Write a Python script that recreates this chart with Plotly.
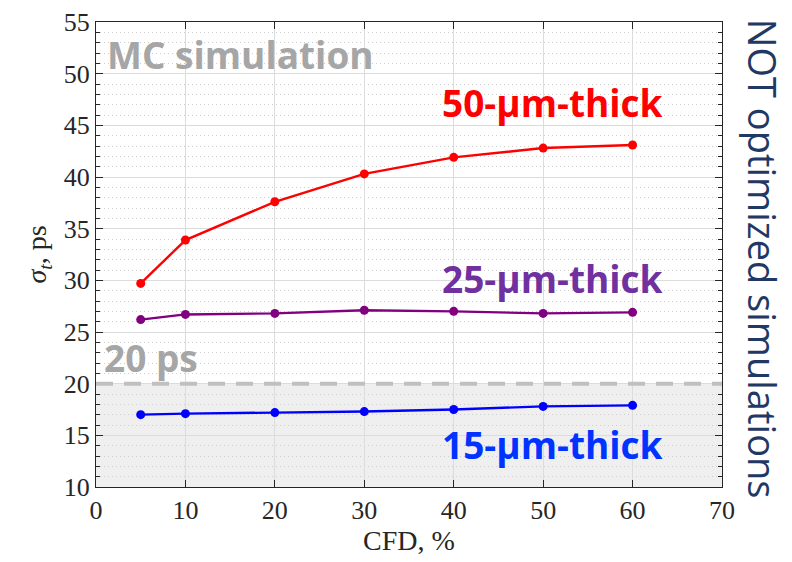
import plotly.graph_objects as go

cfd = [5, 10, 20, 30, 40, 50, 60]
sigma_50um = [29.7, 33.9, 37.6, 40.3, 41.9, 42.8, 43.1]
sigma_25um = [26.2, 26.7, 26.8, 27.1, 27.0, 26.8, 26.9]
sigma_15um = [17.0, 17.1, 17.2, 17.3, 17.5, 17.8, 17.9]
threshold_ps = 20
x_ticks = [0, 10, 20, 30, 40, 50, 60, 70]
y_ticks = [10, 15, 20, 25, 30, 35, 40, 45, 50, 55]

series = [
    ("50-µm-thick", sigma_50um, "#ff0000"),
    ("25-µm-thick", sigma_25um, "#800080"),
    ("15-µm-thick", sigma_15um, "#0000ff"),
]

fig = go.Figure()
for name, vals, col in series:
    fig.add_trace(go.Scatter(
        x=cfd, y=vals, mode="lines+markers", name=name,
        line=dict(color=col, width=2.4),
        marker=dict(color=col, size=9),
        showlegend=False,
    ))

# shaded region below 20 ps
fig.add_shape(type="rect", xref="x", yref="y", x0=0, x1=70, y0=10, y1=threshold_ps,
              fillcolor="#efefef", line=dict(width=0), layer="below")
fig.add_shape(type="line", xref="x", yref="y", x0=0, x1=70, y0=threshold_ps, y1=threshold_ps,
              line=dict(color="#c0c0c0", width=4, dash="17px,11px"), layer="above")

serif = "Liberation Serif"
sans = "Open Sans"

annots = [
    dict(x=16.2, y=51.9, text="<b>MC simulation</b>", color="#a6a6a6", size=37),
    dict(x=51.1, y=47.2, text="<b>50-µm-thick</b>", color="#ff0000", size=37),
    dict(x=51.1, y=30.2, text="<b>25-µm-thick</b>", color="#7030a0", size=37),
    dict(x=51.1, y=14.1, text="<b>15-µm-thick</b>", color="#0033ff", size=37),
    dict(x=6.2, y=22.5, text="<b>20 ps</b>", color="#a6a6a6", size=37),
]
for a in annots:
    fig.add_annotation(x=a["x"], y=a["y"], xref="x", yref="y", text=a["text"],
                       showarrow=False, xanchor="center", yanchor="middle",
                       font=dict(family=sans, size=a["size"], color=a["color"]))

fig.add_annotation(x=1.066, y=0.49, xref="paper", yref="paper",
                   text="NOT optimized simulations", textangle=90, showarrow=False,
                   xanchor="center", yanchor="middle",
                   font=dict(family=sans, size=38, color="#1f3864"))

axis_common = dict(
    showline=True, linecolor="#262626", linewidth=1.2, mirror="ticks",
    ticks="inside", tickcolor="#262626", ticklen=7,
    gridcolor="#dcdcdc", gridwidth=1, zeroline=False, automargin=False,
    tickfont=dict(family=serif, size=26, color="#262626"),
)

fig.update_xaxes(range=[0, 70], tickvals=x_ticks,
                 title=dict(text="CFD, %", font=dict(family=serif, size=28, color="#262626"), standoff=6),
                 **axis_common)
fig.update_yaxes(range=[10, 55], tickvals=y_ticks,
                 title=dict(text="<i>σ<sub>t</sub></i>, ps", font=dict(family=serif, size=28, color="#262626"), standoff=8),
                 minor=dict(dtick=1, ticks="inside", ticklen=4, tickcolor="#262626",
                            showgrid=True, gridcolor="#cccccc", griddash="1px,3px", gridwidth=1),
                 **axis_common)

fig.update_layout(
    width=792, height=562,
    margin=dict(l=96, r=70, t=22, b=75),
    plot_bgcolor="white", paper_bgcolor="white",
)

fig.write_html("out.html", config={"displayModeBar": False},
               post_script="document.body.style.margin='0';")
